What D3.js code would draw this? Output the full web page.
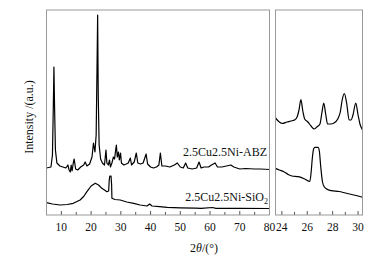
<!DOCTYPE html>
<html>
<head>
<meta charset="utf-8">
<script src="https://cdn.jsdelivr.net/npm/d3@7"></script>
<style>
  body { margin: 0; background: #fff; }
  text { font-family: "Liberation Serif", "Times New Roman", serif; fill: #111; }
</style>
</head>
<body>
<script>
// XRD patterns, wide range panel: [2theta, intensity a.u.]
const abzWide = [
  [5, 47], [6.5, 48], [7.0, 60], [7.3, 110], [7.5, 148], [7.7, 110], [8.0, 65], [8.5, 52],
  [9.5, 49], [10.5, 48], [11.5, 47], [12.2, 50], [12.6, 45], [13.0, 43], [13.3, 50], [13.6, 44],
  [14.0, 52], [14.3, 56], [14.8, 46], [15.5, 45], [16.5, 48], [17.5, 50], [18.0, 53], [18.6, 49],
  [19.5, 51], [20.3, 58], [20.8, 72], [21.0, 68], [21.3, 63], [21.7, 80], [22.0, 150], [22.2, 200],
  [22.4, 120], [22.7, 70], [23.2, 56], [23.8, 52], [24.5, 50], [25.0, 65], [25.3, 52], [25.8, 50],
  [26.2, 55], [26.5, 48], [27.0, 52], [27.5, 58], [27.9, 56], [28.3, 66], [28.5, 70], [28.8, 58],
  [29.2, 63], [29.5, 55], [29.9, 62], [30.2, 52], [31.0, 50], [31.8, 51], [32.5, 52], [33.2, 57],
  [33.6, 50], [34.5, 53], [35.2, 62], [35.7, 52], [36.6, 51], [37.5, 52], [38.5, 61], [39.0, 51],
  [40.0, 48], [41.0, 47], [42.0, 48], [42.8, 50], [43.3, 62], [43.8, 49], [45.0, 49], [46.5, 48],
  [48.0, 50], [49.0, 52], [50.0, 48], [51.0, 47], [51.8, 52], [52.5, 47], [54.0, 46], [55.5, 47],
  [56.3, 53], [57.0, 47], [58.0, 48], [59.5, 48], [60.5, 50], [61.7, 52], [62.5, 48], [64.0, 48],
  [65.5, 49], [67.0, 50], [68.0, 48], [70, 46], [72, 46.5], [75, 46], [77, 46], [80, 45.5]
];

const sio2Wide = [
  [5, 12.3], [7, 11], [9.6, 10], [12, 10.5], [14, 11.7], [16.3, 15], [17.5, 18.5], [18.6, 23.3],
  [20, 29], [21.4, 31.7], [22.5, 30], [23.6, 26.7], [24.5, 25], [25.3, 23.3], [25.9, 24],
  [26.1, 35], [26.3, 39], [26.7, 39], [26.9, 30], [27.0, 16.7], [28, 15.5], [29.8, 15],
  [32, 13], [34.3, 11.7], [36.5, 10], [38.8, 9], [39.7, 11], [40.5, 9], [43, 8.3], [45.6, 7.7],
  [50, 7.2], [55, 6.8], [57, 6.7], [60.8, 7.5], [62, 6.7], [70, 6.6], [80, 6.5]
];

// Zoomed panel, 23.5 - 30.35 degrees
const abzZoom = [
  [23.5, 97], [23.8, 93], [24.05, 91.5], [24.4, 93], [24.7, 94], [25.0, 95], [25.2, 98],
  [25.35, 105], [25.5, 115.5], [25.65, 104], [25.8, 96], [26.05, 93], [26.3, 89], [26.55, 86],
  [26.8, 88.5], [27.0, 91], [27.15, 102], [27.3, 112], [27.45, 101], [27.6, 91], [27.85, 91],
  [28.1, 92], [28.4, 96], [28.6, 103], [28.75, 115], [28.92, 121.5], [29.1, 112], [29.3, 95],
  [29.45, 95], [29.6, 100], [29.82, 112], [30.0, 100], [30.15, 91], [30.35, 85]
];

const sio2Zoom = [
  [23.5, 46.7], [23.8, 45], [24.15, 43.3], [24.5, 40.5], [24.8, 39], [25.3, 38.3], [25.8, 36],
  [26.2, 33.5], [26.3, 42], [26.4, 57], [26.5, 66], [26.6, 67.7], [26.85, 67.7], [26.95, 64],
  [27.05, 50], [27.2, 33], [27.35, 28], [27.6, 25.5], [27.9, 24.3], [28.5, 23.5], [29.0, 22],
  [29.5, 20.5], [30.0, 19], [30.35, 17.7]
];

// Tick values and labels
const wideTicks = [10, 15, 20, 25, 30, 35, 40, 45, 50, 55, 60, 65, 70, 75, 80];
const wideLabels = [10, 20, 30, 40, 50, 60, 70, 80];
const zoomTicks = [24, 25, 26, 27, 28, 29, 30];
const zoomLabels = [24, 26, 28, 30];
const seriesNames = ["2.5Cu2.5Ni-ABZ", "2.5Cu2.5Ni-SiO"];

// Canvas
const width = 391, height = 261;
const plotTop = 10, plotBottom = 215;

const svg = d3.select("body").append("svg")
  .attr("width", width)
  .attr("height", height);

// Scales
const xWide = d3.scaleLinear().domain([5, 80]).range([46.5, 269.5]);
const xZoom = d3.scaleLinear().domain([23.5, 30.35]).range([275.5, 362.5]);
const y = d3.scaleLinear().domain([0, 205]).range([plotBottom, plotTop]);

function drawPanel(x, ticks, labels, series) {
  const [x0, x1] = x.range();
  const g = svg.append("g");

  // clip so lines stay inside the frame
  const id = "clip" + Math.round(x0);
  svg.append("clipPath").attr("id", id)
    .append("rect").attr("x", x0).attr("y", plotTop).attr("width", x1 - x0).attr("height", plotBottom - plotTop);

  // inward ticks along the bottom
  g.selectAll("line.tick")
    .data(ticks)
    .enter().append("line")
    .attr("x1", d => x(d)).attr("x2", d => x(d))
    .attr("y1", plotBottom)
    .attr("y2", d => labels.includes(d) ? plotBottom - 4 : plotBottom - 3)
    .attr("stroke", "#555").attr("stroke-width", 1);

  g.selectAll("text.tl")
    .data(labels)
    .enter().append("text")
    .attr("x", d => x(d))
    .attr("y", 231)
    .attr("text-anchor", "middle")
    .attr("font-size", "11.5px")
    .text(d => d);

  const line = d3.line()
    .x(d => x(d[0]))
    .y(d => y(d[1]))
    .curve(series.curve);

  series.data.forEach(s => {
    g.append("path")
      .datum(s)
      .attr("clip-path", `url(#${id})`)
      .attr("fill", "none")
      .attr("stroke", "#000")
      .attr("stroke-width", 1.2)
      .attr("stroke-linejoin", "round")
      .attr("d", line);
  });

  // frame
  g.append("rect")
    .attr("x", x0).attr("y", plotTop)
    .attr("width", x1 - x0).attr("height", plotBottom - plotTop)
    .attr("fill", "none")
    .attr("stroke", "#999").attr("stroke-width", 1);
}

drawPanel(xWide, wideTicks, wideLabels, { data: [abzWide, sio2Wide], curve: d3.curveLinear });
drawPanel(xZoom, zoomTicks, zoomLabels, { data: [abzZoom, sio2Zoom], curve: d3.curveMonotoneX });

// Series labels
svg.append("text")
  .attr("x", 267).attr("y", 156)
  .attr("text-anchor", "end")
  .attr("font-size", "12px")
  .text(seriesNames[0]);

svg.append("text")
  .attr("x", 264).attr("y", 201)
  .attr("text-anchor", "end")
  .attr("font-size", "12px")
  .text(seriesNames[1]);

svg.append("text")
  .attr("x", 264).attr("y", 204)
  .attr("font-size", "8px")
  .text("2");

// Axis titles
svg.append("text")
  .attr("transform", "translate(33,117) rotate(-90)")
  .attr("text-anchor", "middle")
  .attr("font-size", "12px")
  .text("Intensity /(a.u.)");

const xTitle = svg.append("text")
  .attr("x", 204).attr("y", 252)
  .attr("text-anchor", "middle")
  .attr("font-size", "12px");
xTitle.append("tspan").text("2");
xTitle.append("tspan").attr("font-style", "italic").text("θ");
xTitle.append("tspan").text("/(°)");
</script>
</body>
</html>
